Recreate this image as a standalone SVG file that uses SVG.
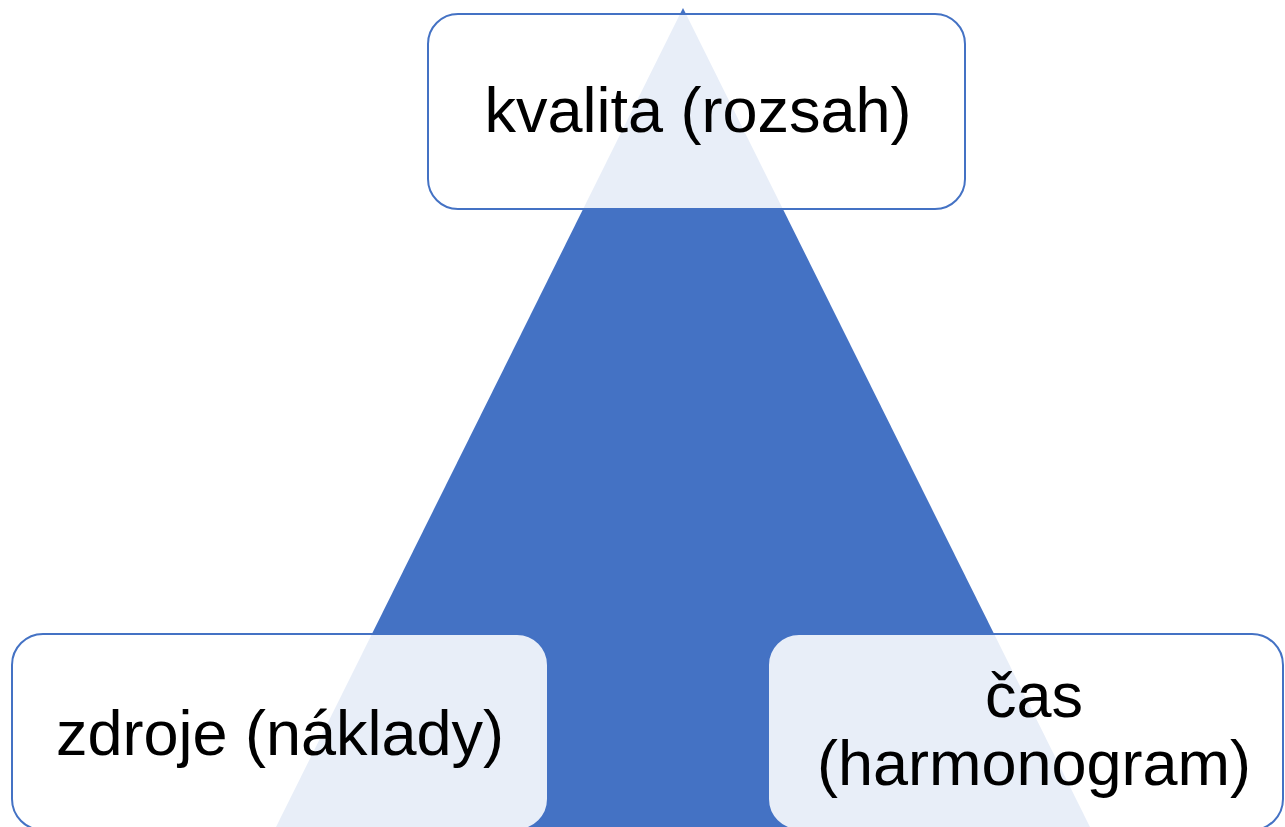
<svg xmlns="http://www.w3.org/2000/svg" width="1285" height="827" viewBox="0 0 1285 827">
  <style>
    .box { fill: #ffffff; fill-opacity: 0.88; stroke: #4472C4; stroke-width: 2; }
    .lbl { font-family: "Liberation Sans", Arial, sans-serif; font-size: 63px; fill: #000000; text-anchor: middle; }
  </style>
  <rect width="1285" height="827" fill="#ffffff"/>
  <g id="triangle">
    <polygon points="683,8 276,827 1090,827 " fill="#4472C4"/>
  </g>
  <g id="connectors"></g>
  <g id="node-kvalita">
    <rect class="box" x="428" y="14" width="537" height="195" rx="30" ry="30"/>
    <text class="lbl" x="698" y="132">kvalita (rozsah)</text>
  </g>
  <g id="node-zdroje">
    <rect class="box" x="12" y="634" width="536" height="196" rx="31" ry="31"/>
    <text class="lbl" x="280" y="755">zdroje (náklady)</text>
  </g>
  <g id="node-cas">
    <rect class="box" x="768" y="634" width="515" height="196" rx="31" ry="31"/>
    <text class="lbl" x="1034" y="717">čas</text>
    <text class="lbl" x="1034" y="785">(harmonogram)</text>
  </g>
</svg>
